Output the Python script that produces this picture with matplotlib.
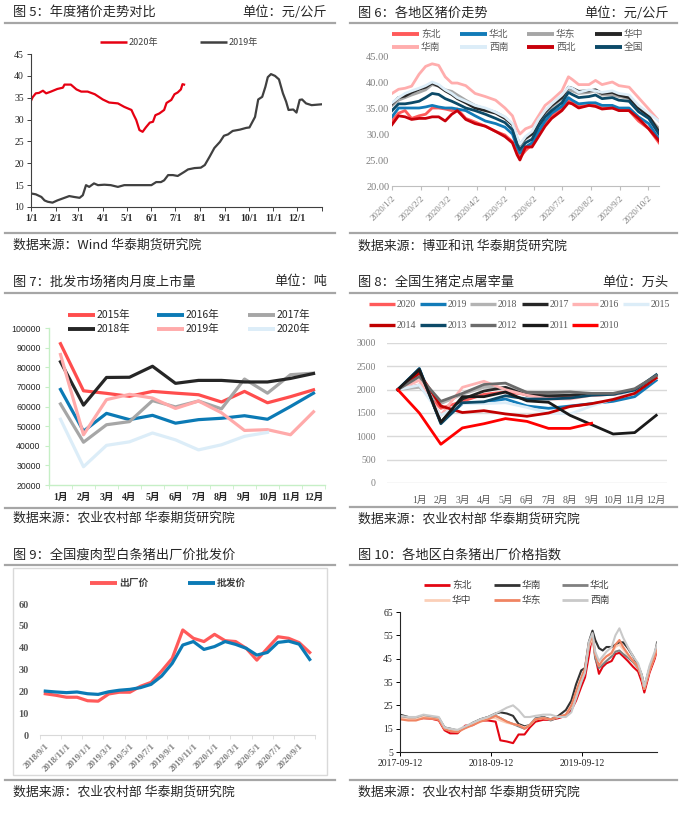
import matplotlib
matplotlib.use('Agg')
import matplotlib.pyplot as plt
from matplotlib.lines import Line2D
from matplotlib.patches import Rectangle
import pandas as pd

plt.rcParams['font.family'] = ['Noto Sans CJK SC', 'DejaVu Sans']
SERIF = ['Liberation Serif', 'Noto Sans CJK SC']

# ---------------- data ----------------
# 图5 年度猪价 (day of year, 元/公斤)
p5_day19 = [0, 6, 13, 17, 21, 27, 33, 42, 48, 54, 61, 65, 69, 73, 79, 84, 92, 100, 109, 117, 134, 151, 157, 163, 167,
            172, 178, 184, 192, 197, 205, 213, 218, 224, 230, 237, 242, 247, 253, 262, 270, 274, 281, 285, 290, 294,
            297, 301, 306, 311, 316, 320, 323, 329, 333, 337, 340, 345, 352, 365]
p5_v19 = [13.1, 12.9, 12.3, 11.5, 11.2, 11.0, 11.5, 12.1, 12.5, 12.3, 12.1, 12.7, 15.0, 14.6, 15.4, 15.0, 15.1, 15.0,
          14.6, 15.0, 15.0, 15.0, 15.7, 15.7, 16.1, 17.3, 17.3, 17.1, 18.0, 18.6, 18.9, 19.0, 19.6, 21.5, 23.5, 24.9,
          26.3, 26.6, 27.4, 27.7, 28.1, 28.2, 30.6, 34.6, 35.2, 37.5, 39.7, 40.4, 40.0, 39.2, 36.0, 34.1, 32.2, 32.3,
          31.6, 34.5, 34.6, 33.7, 33.3, 33.5]
p5_day20 = [0, 2, 6, 10, 15, 19, 25, 33, 40, 42, 50, 57, 63, 71, 80, 90, 98, 109, 117, 126, 129, 132, 136, 140, 144,
            149, 153, 156, 161, 167, 170, 176, 180, 184, 188, 190, 192]
p5_v20 = [34.3, 35.1, 36.0, 36.1, 36.6, 36.0, 36.4, 37.0, 37.3, 38.0, 38.0, 36.9, 36.4, 36.4, 35.8, 34.6, 33.9, 33.7,
          32.9, 32.2, 31.0, 29.9, 27.6, 27.2, 28.2, 29.3, 29.5, 31.0, 31.4, 32.2, 33.8, 34.5, 35.8, 36.2, 36.9, 38.1,
          38.0]
p5_month_days = [0, 31, 59, 90, 120, 151, 181, 212, 243, 273, 304, 334, 365]
p5_month_labels = ['1/1', '2/1', '3/1', '4/1', '5/1', '6/1', '7/1', '8/1', '9/1', '10/1', '11/1', '12/1', '']

# 图6 各地区猪价 (days since 2020-01-02)
p6_day = [0, 7, 14, 21, 29, 36, 43, 50, 57, 64, 70, 79, 89, 100, 111, 121, 129, 134, 137, 143, 150, 157, 164, 171,
          182, 189, 193, 200, 211, 218, 225, 236, 243, 254, 264, 275, 286]
p6_dongbei = [32.5, 34.0, 34.5, 33.0, 33.5, 33.8, 35.0, 35.0, 34.8, 34.5, 34.8, 33.0, 32.3, 31.5, 30.5, 29.8, 28.5,
              26.5, 25.5, 26.8, 28.0, 30.0, 32.0, 33.5, 34.8, 36.5, 36.0, 35.3, 35.5, 35.5, 35.0, 35.0, 34.8, 34.5,
              32.5, 31.0, 28.3]
p6_huabei = [33.3, 35.0, 35.0, 35.0, 35.0, 35.2, 35.5, 35.2, 35.0, 35.0, 34.8, 34.5, 33.5, 32.5, 32.0, 31.3, 30.0,
             27.5, 26.3, 27.5, 28.3, 30.5, 32.5, 34.0, 35.3, 37.0, 36.5, 35.8, 36.0, 36.0, 35.5, 35.5, 35.0, 35.0,
             33.3, 32.0, 29.0]
p6_huadong = [35.5, 36.5, 37.0, 37.5, 38.0, 38.5, 39.5, 39.2, 38.5, 38.2, 37.5, 36.5, 35.5, 34.8, 34.2, 33.2, 31.8,
              29.0, 27.8, 29.0, 30.0, 32.0, 33.8, 35.2, 36.8, 38.5, 38.3, 37.8, 38.0, 38.3, 37.5, 37.5, 37.2, 36.8,
              35.0, 33.3, 31.0]
p6_huazhong = [35.8, 37.0, 37.3, 38.0, 38.6, 39.0, 39.8, 39.2, 38.3, 37.6, 36.8, 36.0, 35.0, 34.5, 34.0, 33.0, 31.8,
               29.2, 28.0, 29.2, 30.0, 32.4, 34.2, 35.5, 37.0, 39.0, 38.8, 38.2, 38.3, 38.5, 37.8, 38.0, 37.5, 37.0,
               35.0, 33.5, 30.4]
p6_huanan = [37.8, 38.6, 38.8, 39.2, 41.5, 43.0, 43.5, 43.2, 41.0, 39.8, 39.8, 39.3, 37.8, 37.2, 36.5, 35.0, 33.5,
             31.0, 30.0, 31.0, 31.5, 33.5, 35.5, 36.5, 38.3, 41.0, 40.5, 39.5, 39.5, 40.3, 39.5, 40.0, 39.3, 39.0,
             37.0, 34.8, 32.5]
p6_xinan = [36.0, 37.0, 37.8, 38.3, 38.8, 39.3, 40.0, 39.5, 38.5, 37.8, 37.0, 36.3, 35.5, 35.0, 34.2, 33.3, 32.0,
            29.5, 28.0, 29.5, 30.5, 32.8, 34.5, 35.8, 37.5, 39.0, 38.8, 38.0, 38.5, 38.3, 38.0, 38.3, 37.8, 37.5,
            35.5, 34.0, 32.5]
p6_xibei = [31.8, 33.5, 33.3, 32.8, 33.0, 33.0, 33.3, 33.3, 32.5, 33.8, 34.5, 32.8, 32.0, 31.5, 30.5, 29.5, 28.3,
            26.0, 25.0, 27.5, 27.5, 29.5, 31.5, 33.0, 34.5, 36.0, 35.8, 35.0, 35.5, 35.3, 34.8, 35.0, 34.5, 34.5,
            33.0, 31.0, 28.7]
p6_quanguo = [34.5, 35.8, 35.8, 36.0, 36.3, 37.0, 37.8, 37.6, 36.8, 36.3, 35.8, 35.0, 34.5, 33.8, 33.0, 32.2, 30.8,
              28.0, 27.0, 28.3, 29.0, 31.5, 33.3, 34.5, 36.0, 38.0, 37.6, 37.0, 37.2, 37.5, 36.8, 37.0, 36.5, 36.3,
              34.3, 33.0, 30.0]
p6_tick_days = [0, 31, 60, 91, 121, 152, 182, 213, 244, 274]
p6_tick_labels = ['2020/1/2', '2020/2/2', '2020/3/2', '2020/4/2', '2020/5/2', '2020/6/2', '2020/7/2', '2020/8/2',
                  '2020/9/2', '2020/10/2']

# 图7 批发市场猪肉月度上市量 (吨)
p7_months = ['1月', '2月', '3月', '4月', '5月', '6月', '7月', '8月', '9月', '10月', '11月', '12月']
p7_2015 = [92000, 68000, 66700, 65200, 67700, 66800, 66000, 62300, 67700, 61900, 65000, 68500]
p7_2016 = [68700, 47400, 56500, 53300, 55500, 51500, 53300, 54000, 55300, 53500, 60000, 66800]
p7_2017 = [61300, 41800, 50700, 52300, 63000, 59800, 62800, 58800, 74000, 66800, 76200, 77000]
p7_2018 = [82800, 60700, 74800, 74900, 80500, 71800, 73300, 73300, 72500, 72500, 74300, 76800]
p7_2019 = [86500, 45600, 63500, 66200, 64300, 59000, 62800, 56800, 47800, 48200, 45600, 57300]
p7_2020 = [53500, 29300, 40200, 42000, 46500, 43000, 37900, 40500, 44800, 46800]

# 图8 全国生猪定点屠宰量 (万头), first point is the blank category
p8_cats = ['', '1月', '2月', '3月', '4月', '5月', '6月', '7月', '8月', '9月', '10月', '11月', '12月']
p8_2020 = [2000, 2100, 1600, 1750, 1900, 1950, 1900, 1850, 1850, 1880, 1900, 1970, 2250]
p8_2019 = [2000, 2450, 1300, 1700, 1730, 1800, 1650, 1600, 1650, 1700, 1750, 1850, 2200]
p8_2018 = [2000, 2050, 1700, 1900, 2050, 2050, 1950, 1930, 1950, 1900, 1900, 2000, 2250]
p8_2017 = [2000, 2400, 1300, 1800, 1970, 2050, 1880, 1870, 1880, 1900, 1900, 2000, 2300]
p8_2016 = [2000, 2200, 1450, 2050, 2180, 2000, 1880, 1800, 1800, 1880, 1900, 1950, 2250]
p8_2015 = [2000, 2100, 1450, 1700, 1700, 1720, 1620, 1500, 1480, 1650, 1800, 1950, 2250]
p8_2014 = [2000, 2350, 1650, 1510, 1550, 1480, 1430, 1500, 1640, 1700, 1790, 1920, 2250]
p8_2013 = [2000, 2450, 1270, 1720, 1740, 1870, 1800, 1800, 1820, 1880, 1900, 1990, 2320]
p8_2012 = [2000, 2280, 1750, 1920, 2110, 2140, 1940, 1940, 1950, 1920, 1920, 2020, 2300]
p8_2011 = [2000, 2430, 1300, 1850, 1850, 1950, 1760, 1730, 1450, 1250, 1050, 1080, 1450]
p8_2010 = [2000, 1500, 830, 1180, 1270, 1380, 1320, 1170, 1170, 1280]

# 图9 瘦肉型白条猪出厂价/批发价
p9_months = ['2018/9/1', '2018/10/1', '2018/11/1', '2018/12/1', '2019/1/1', '2019/2/1', '2019/3/1', '2019/4/1',
             '2019/5/1', '2019/6/1', '2019/7/1', '2019/8/1', '2019/9/1', '2019/10/1', '2019/11/1', '2019/12/1',
             '2020/1/1', '2020/2/1', '2020/3/1', '2020/4/1', '2020/5/1', '2020/6/1', '2020/7/1', '2020/8/1',
             '2020/9/1', '2020/10/1']
p9_chuchang = [18.9, 18.2, 17.3, 17.3, 15.7, 15.5, 18.8, 19.6, 19.6, 22.3, 24.1, 29.3, 35.1, 48.1, 44.3, 42.8,
               46.1, 43.2, 42.8, 39.7, 34.3, 39.7, 45.0, 44.3, 42.3, 37.8]
p9_pifa = [20.1, 19.7, 19.4, 19.7, 18.9, 18.6, 19.8, 20.5, 20.9, 21.7, 23.2, 27.0, 32.8, 41.2, 42.8, 39.2, 40.5,
           42.8, 41.5, 39.7, 36.6, 37.8, 42.4, 43.0, 41.6, 34.6]

# 图10 各地区白条猪出厂价格指数
p10_dates = ['2017-09-12', '2017-10-15', '2017-11-15', '2017-12-15', '2018-01-15', '2018-02-15', '2018-03-10',
             '2018-04-01', '2018-05-01', '2018-06-01', '2018-07-01', '2018-08-01', '2018-09-01', '2018-10-01',
             '2018-10-20', '2018-11-15', '2018-12-10', '2019-01-01', '2019-01-25', '2019-02-15', '2019-03-10',
             '2019-04-10', '2019-05-10', '2019-06-10', '2019-07-10', '2019-08-01', '2019-08-20', '2019-09-10',
             '2019-09-25', '2019-10-10', '2019-10-25', '2019-11-05', '2019-11-20', '2019-12-05', '2019-12-20',
             '2020-01-10', '2020-01-25', '2020-02-10', '2020-02-25', '2020-03-15', '2020-04-05', '2020-04-25',
             '2020-05-10', '2020-05-20', '2020-06-10', '2020-07-01', '2020-07-10']
p10_dongbei = [19.5, 19.0, 19.0, 19.5, 19.3, 18.5, 14.3, 13.0, 13.0, 16.3, 16.5, 18.5, 18.5, 18.0, 10.0, 9.5, 8.8,
               12.5, 12.5, 15.5, 18.0, 18.8, 18.8, 19.5, 20.5, 23.0, 27.0, 33.0, 37.0, 46.0, 56.0, 46.0, 38.5,
               41.5, 43.0, 44.0, 47.0, 47.5, 46.0, 44.0, 41.5, 39.5, 35.0, 30.5, 39.0, 45.0, 49.0]
p10_huanan = [21.0, 20.0, 19.8, 20.5, 20.0, 19.5, 15.5, 15.0, 14.2, 15.5, 17.5, 19.0, 20.0, 21.5, 22.0, 21.5, 20.5,
              17.0, 16.0, 16.5, 19.0, 20.0, 19.0, 20.5, 23.0, 27.0, 34.0, 40.0, 41.0, 52.0, 57.0, 53.0, 49.5,
              48.5, 50.0, 50.0, 51.0, 52.0, 52.0, 49.5, 46.0, 42.0, 38.0, 33.0, 41.0, 47.0, 51.0]
p10_huabei = [20.5, 19.5, 19.5, 20.5, 20.0, 19.5, 15.0, 14.5, 14.0, 15.5, 17.0, 19.0, 20.0, 20.5, 19.5, 18.0, 17.0,
              16.0, 15.0, 16.5, 19.5, 20.0, 18.5, 20.0, 21.0, 24.0, 29.0, 35.0, 40.0, 50.0, 55.0, 45.0, 41.0,
              42.5, 44.0, 46.0, 48.0, 48.5, 47.0, 45.5, 43.5, 41.0, 37.0, 32.0, 41.0, 47.0, 52.0]
p10_huazhong = [19.5, 19.0, 19.0, 20.0, 19.5, 19.0, 15.0, 14.3, 13.8, 15.5, 17.0, 18.5, 19.5, 19.5, 18.5, 17.5,
                17.0, 16.5, 15.5, 16.5, 19.0, 19.5, 19.0, 20.0, 21.0, 24.5, 30.0, 36.0, 40.0, 50.0, 54.0, 47.0,
                42.0, 44.0, 46.0, 47.0, 50.0, 51.0, 49.0, 46.5, 44.0, 41.5, 37.0, 32.0, 40.0, 46.0, 50.0]
p10_huadong = [19.0, 18.5, 18.5, 19.5, 19.3, 18.8, 14.8, 14.0, 13.5, 15.2, 16.5, 18.0, 19.0, 20.5, 19.5, 18.0,
               17.0, 16.5, 15.0, 16.5, 19.0, 19.5, 19.0, 20.0, 21.0, 25.0, 31.0, 37.0, 41.0, 51.0, 55.0, 47.0,
               42.0, 44.5, 46.0, 47.5, 51.0, 53.0, 50.0, 47.0, 44.0, 41.5, 37.0, 32.0, 40.0, 46.0, 50.5]
p10_xinan = [20.5, 20.0, 20.0, 21.0, 20.5, 20.0, 15.5, 15.0, 14.5, 16.0, 17.5, 19.0, 20.0, 21.5, 22.5, 24.0, 25.0,
             23.0, 20.0, 20.0, 20.5, 21.0, 21.0, 20.0, 20.0, 22.0, 28.0, 35.0, 39.0, 52.0, 56.0, 48.0, 44.0, 46.0,
             48.0, 50.0, 55.0, 58.0, 54.0, 50.0, 46.0, 43.0, 38.0, 33.0, 42.0, 48.0, 51.0]
p10_ticks = ['2017-09-12', '2018-09-12', '2019-09-12']

# ---------------- layout helpers (pixel coords) ----------------
W, H = 684, 813
fig = plt.figure(figsize=(W / 100, H / 100), dpi=100)


def fx(x):
    return x / W


def fy(y):
    return 1 - y / H


def rect(x0, y0, x1, y1):
    return [x0 / W, 1 - y1 / H, (x1 - x0) / W, (y1 - y0) / H]


def hline(x0, x1, y, color='#a6a6a6', lw=1.6):
    fig.add_artist(Line2D([fx(x0), fx(x1)], [fy(y), fy(y)], color=color, lw=lw))


def header(x0, x1, ty, title, unit, y_top, y_bot, y_src, src):
    fig.text(fx(x0 + 8), fy(ty), title, fontsize=9.5, color='#262626', ha='left', va='center')
    if unit:
        fig.text(fx(x1 - 8), fy(ty), unit, fontsize=9.5, color='#262626', ha='right', va='center')
    hline(x0, x1, y_top)
    hline(x0, x1, y_bot)
    fig.text(fx(x0 + 8), fy(y_src), src, fontsize=9.3, color='#262626', ha='left', va='center')


def leg(x0, y, color, label, lw=2.5, length=27, fs=7, tc='#404040', family=None, weight='normal'):
    fig.add_artist(Line2D([fx(x0), fx(x0 + length)], [fy(y), fy(y)], color=color, lw=lw,
                          solid_capstyle='butt'))
    kw = {}
    if family:
        kw['family'] = family
    fig.text(fx(x0 + length + 2), fy(y), label, ha='left', va='center', fontsize=fs, color=tc,
             weight=weight, **kw)


SRC_NY = '数据来源：农业农村部 华泰期货研究院'
header(5, 335, 12.5, '图 5：年度猪价走势对比', '单位：元/公斤', 23, 233, 245, '数据来源：Wind 华泰期货研究院')
header(350, 677, 13, '图 6：各地区猪价走势', '单位：元/公斤', 23, 233, 246, '数据来源：博亚和讯 华泰期货研究院')
header(5, 335, 282, '图 7：批发市场猪肉月度上市量', '单位：吨', 293, 508, 518, SRC_NY)
header(350, 677, 282, '图 8：全国生猪定点屠宰量', '单位：万头', 293, 507, 519, SRC_NY)
header(5, 335, 555, '图 9：全国瘦肉型白条猪出厂价批发价', None, 565, 780, 792, SRC_NY)
header(350, 677, 555, '图 10：各地区白条猪出厂价格指数', None, 565, 780, 792, SRC_NY)

# ---------------- 图5 ----------------
ax5 = fig.add_axes(rect(31, 54, 322, 207))
ax5.plot(p5_day19, p5_v19, color='#404040', lw=1.6)
ax5.plot(p5_day20, p5_v20, color='#e60012', lw=1.6)
ax5.set_xlim(0, 365)
ax5.set_ylim(10, 45)
ax5.set_yticks(range(10, 46, 5), labels=[str(v) for v in range(10, 46, 5)], family=SERIF, fontsize=7,
               color='#262626')
ax5.set_xticks(p5_month_days, labels=p5_month_labels, family=SERIF, fontsize=7, weight='bold', color='#262626')
for s in ['top', 'right']:
    ax5.spines[s].set_visible(False)
for s in ['left', 'bottom']:
    ax5.spines[s].set_color('#404040')
    ax5.spines[s].set_linewidth(0.8)
ax5.tick_params(length=3, width=0.7, color='#404040', pad=2)
leg(100, 42, '#e60012', '2020年', lw=1.8, fs=6.5)
leg(200, 42, '#404040', '2019年', lw=1.8, fs=6.5)

# ---------------- 图6 ----------------
ax6 = fig.add_axes(rect(392, 56, 659, 186))
p6_series = [('东北', p6_dongbei, '#ff5a5a'), ('华北', p6_huabei, '#127bb8'), ('华东', p6_huadong, '#a6a6a6'),
             ('华中', p6_huazhong, '#262626'), ('华南', p6_huanan, '#ffadad'), ('西南', p6_xinan, '#dcedf8'),
             ('西北', p6_xibei, '#c8000a'), ('全国', p6_quanguo, '#0c4a68')]
for name, vals, col in p6_series:
    ax6.plot(p6_day, vals, color=col, lw=2.0)
ax6.set_xlim(0, 286)
ax6.set_ylim(20, 45)
ax6.set_yticks(range(20, 46, 5), labels=['%.2f' % v for v in range(20, 46, 5)], family=SERIF, fontsize=7.5,
               color='#7f7f7f')
ax6.set_xticks(p6_tick_days, labels=p6_tick_labels, family=SERIF, fontsize=6.5, color='#7f7f7f',
               rotation=45, ha='right', va='top', rotation_mode='anchor')
for s in ['top', 'right', 'left']:
    ax6.spines[s].set_visible(False)
ax6.spines['bottom'].set_color('#bfbfbf')
ax6.tick_params(axis='x', length=3, color='#bfbfbf', pad=3)
ax6.tick_params(axis='y', length=0, pad=2)
cols6 = [392, 460, 527, 595]
for i, (name, vals, col) in enumerate(p6_series):
    leg(cols6[i % 4], 34 if i < 4 else 47, col, name, lw=2.8, fs=7, tc='#595959')

# ---------------- 图7 ----------------
ax7 = fig.add_axes(rect(49, 328, 325, 485))
xs7 = list(range(1, 13))
p7_series = [('2015年', p7_2015, '#ff4d4d'), ('2016年', p7_2016, '#0b7ab5'), ('2017年', p7_2017, '#a6a6a6'),
             ('2018年', p7_2018, '#262626'), ('2019年', p7_2019, '#ffaaaa'), ('2020年', p7_2020, '#dcedf8')]
for name, vals, col in p7_series:
    ax7.plot(xs7[:len(vals)], vals, color=col, lw=2.3)
ax7.set_xlim(0.5, 12.5)
ax7.set_ylim(20000, 100000)
GREEN = '#c6efc6'
ax7.set_yticks(range(20000, 100001, 10000), labels=[str(v) for v in range(20000, 100001, 10000)],
               family='Liberation Sans', fontsize=6.3, color='#262626')
ax7.set_xticks(xs7, labels=p7_months, family=SERIF, fontsize=7, weight='bold', color='#262626')
ax7.set_xticks([i + 0.5 for i in range(0, 13)], minor=True)
for s in ['top', 'right']:
    ax7.spines[s].set_visible(False)
for s in ['left', 'bottom']:
    ax7.spines[s].set_color(GREEN)
    ax7.spines[s].set_linewidth(1.0)
ax7.tick_params(axis='x', which='major', length=0, pad=6)
ax7.tick_params(axis='x', which='minor', length=3, color=GREEN)
ax7.tick_params(axis='y', length=3, color=GREEN, pad=3)
cols7 = [68, 157, 248]
for i, (name, vals, col) in enumerate(p7_series):
    leg(cols7[i % 3], 315 if i < 3 else 329, col, name, lw=2.8, fs=7.5, tc='#262626')

# ---------------- 图8 ----------------
ax8 = fig.add_axes(rect(387, 343, 667, 483))
p8_series = [('2020', p8_2020, '#ff5a5a'), ('2019', p8_2019, '#127bb8'), ('2018', p8_2018, '#b3b3b3'),
             ('2017', p8_2017, '#262626'), ('2016', p8_2016, '#ffb3b3'), ('2015', p8_2015, '#dcedf8'),
             ('2014', p8_2014, '#c00000'), ('2013', p8_2013, '#0c4a68'), ('2012', p8_2012, '#6b6b6b'),
             ('2011', p8_2011, '#1a1a1a'), ('2010', p8_2010, '#ff0000')]
xs8 = list(range(13))
for name, vals, col in p8_series:
    ax8.plot(xs8[:len(vals)], vals, color=col, lw=2.0)
ax8.set_xlim(-0.5, 12.5)
ax8.set_ylim(0, 3000)
ax8.set_yticks(range(0, 3001, 500), labels=[str(v) for v in range(0, 3001, 500)], family=SERIF, fontsize=7,
               color='#7f7f7f')
ax8.set_xticks(xs8, labels=p8_cats, family=SERIF, fontsize=7, color='#595959')
ax8.grid(axis='y', color='#d9d9d9', lw=1.0)
ax8.set_axisbelow(True)
for s in ax8.spines.values():
    s.set_visible(False)
ax8.tick_params(length=0)
ax8.tick_params(axis='x', pad=9)
ax8.tick_params(axis='y', pad=8)
cols8 = [369, 420, 470, 522, 572, 623]
for i, (name, vals, col) in enumerate(p8_series):
    leg(cols8[i % 6], 304 if i < 6 else 325, col, name, lw=2.4, length=26, fs=7, tc='#595959', family=SERIF)

# ---------------- 图9 ----------------
fig.add_artist(Rectangle((fx(13), fy(775)), fx(327) - fx(13), fy(568) - fy(775), fill=False,
                         ec='#d9d9d9', lw=1.0))
ax9 = fig.add_axes(rect(40, 604, 315, 735))
xs9 = list(range(len(p9_months)))
ax9.plot(xs9, p9_chuchang, color='#ff5a5a', lw=2.3)
ax9.plot(xs9, p9_pifa, color='#0b7ab5', lw=2.3)
ax9.set_xlim(-0.5, len(p9_months) - 0.5)
ax9.set_ylim(0, 60)
ax9.set_yticks(range(0, 61, 10), labels=[str(v) for v in range(0, 61, 10)], family=SERIF, fontsize=7.5,
               weight='bold', color='#595959')
ax9.set_xticks(xs9[::2], labels=p9_months[::2], family=SERIF, fontsize=6.5, weight='bold', color='#7f7f7f',
               rotation=45, ha='right', va='top', rotation_mode='anchor')
ax9.set_xticks([i - 0.5 for i in range(0, len(p9_months) + 1, 2)], minor=True)
for s in ['top', 'right', 'left']:
    ax9.spines[s].set_visible(False)
ax9.spines['bottom'].set_color('#d9d9d9')
ax9.tick_params(axis='x', which='major', length=0, pad=5)
ax9.tick_params(axis='x', which='minor', length=3, color='#d9d9d9')
ax9.tick_params(axis='y', length=0, pad=8)
leg(90, 583, '#ff5a5a', '出厂价', lw=2.8, fs=7, tc='#404040', weight='bold')
leg(188, 583, '#0b7ab5', '批发价', lw=2.8, fs=7, tc='#404040', weight='bold')

# ---------------- 图10 ----------------
ax10 = fig.add_axes(rect(400, 612, 657, 752))
d10 = pd.to_datetime(p10_dates)
p10_series = [('东北', p10_dongbei, '#e30613'), ('华南', p10_huanan, '#333333'), ('华北', p10_huabei, '#808080'),
              ('华中', p10_huazhong, '#fbcfb8'), ('华东', p10_huadong, '#f08462'), ('西南', p10_xinan, '#c9c9c9')]
for name, vals, col in p10_series:
    ax10.plot(d10, vals, color=col, lw=1.5)
ax10.set_xlim(pd.Timestamp('2017-09-12'), pd.Timestamp('2020-07-10'))
ax10.set_ylim(5, 65)
ax10.set_yticks(range(5, 66, 10), labels=[str(v) for v in range(5, 66, 10)], family=SERIF, fontsize=7,
                color='#262626')
ax10.set_xticks(pd.to_datetime(p10_ticks), labels=p10_ticks, family=SERIF, fontsize=7, color='#262626')
for s in ['top', 'right']:
    ax10.spines[s].set_visible(False)
for s in ['left', 'bottom']:
    ax10.spines[s].set_color('#262626')
    ax10.spines[s].set_linewidth(0.8)
ax10.tick_params(length=3, width=0.7, pad=2)
cols10 = [424, 494, 562]
for i, (name, vals, col) in enumerate(p10_series):
    leg(cols10[i % 3], 585 if i < 3 else 600, col, name, lw=2.0, length=26, fs=7, tc='#404040')

fig.savefig('out.png', dpi=100)
